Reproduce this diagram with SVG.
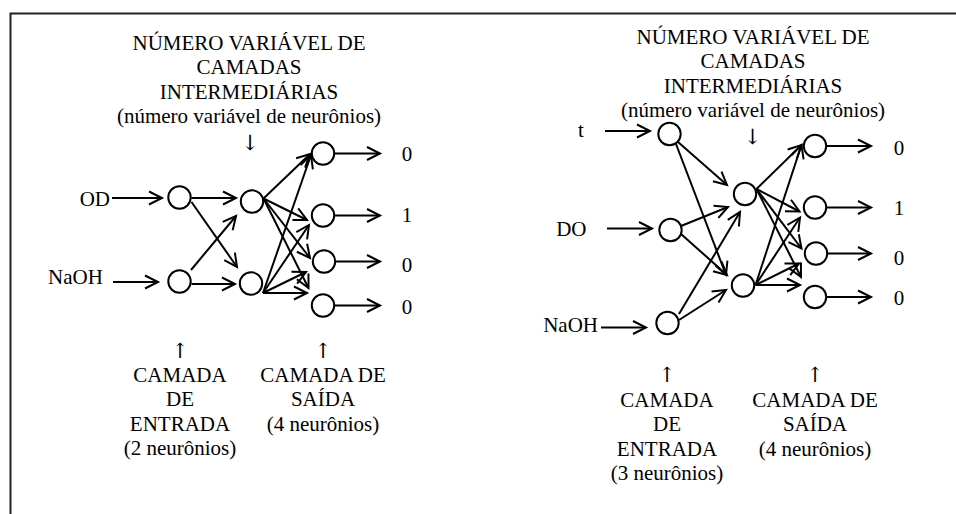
<svg xmlns="http://www.w3.org/2000/svg" width="956" height="514" viewBox="0 0 956 514">
  <style>
    text { font-family: "Liberation Serif", "Times New Roman", serif; font-size: 21px; fill: #000; }
    text.arr { font-family: "DejaVu Serif", "DejaVu Sans", serif; font-size: 21px; }
    .c { text-anchor: middle; }
    .e { text-anchor: end; }
    .n { fill: #fff; stroke: #000; stroke-width: 2; }
    .w { stroke: #000; stroke-width: 2; fill: none; marker-end: url(#ah); }
    .frame { stroke: #222; stroke-width: 2; fill: none; }
  </style>
  <defs>
    <marker id="ah" markerUnits="userSpaceOnUse" markerWidth="20" markerHeight="20" refX="0" refY="0" orient="auto" overflow="visible">
      <path d="M-13,-6.5 L0,0 L-13,6.5" fill="none" stroke="#000" stroke-width="2" stroke-linejoin="miter"/>
    </marker>
  </defs>

  <rect width="956" height="514" fill="#fff"/>
  <!-- frame (top and left edges) -->
  <path class="frame" d="M10.5,514 V13.5 H956"/>

  <!-- ===== network with 2 inputs ===== -->
  <g id="netA-title">
    <text class="c" x="249" y="49.5">NÚMERO VARIÁVEL DE</text>
    <text class="c" x="249" y="74">CAMADAS</text>
    <text class="c" x="249" y="98.5">INTERMEDIÁRIAS</text>
    <text class="c" x="249" y="123">(número variável de neurônios)</text>
    <text class="c arr" x="250" y="150">↓</text>
  </g>
  <g id="netA-input-label">
    <text class="c arr" x="180" y="358">↑</text>
    <text class="c" x="180" y="381.7">CAMADA</text>
    <text class="c" x="180" y="406.2">DE</text>
    <text class="c" x="180" y="430.7">ENTRADA</text>
    <text class="c" x="180" y="455.2">(2 neurônios)</text>
  </g>
  <g id="netA-output-label">
    <text class="c arr" x="323" y="358">↑</text>
    <text class="c" x="323" y="381.7">CAMADA DE</text>
    <text class="c" x="323" y="406.2">SAÍDA</text>
    <text class="c" x="323" y="430.7">(4 neurônios)</text>
  </g>

  <g id="netA-connectors">
    <!-- inputs -->
    <line class="w" x1="112" y1="198" x2="162" y2="198"/>
    <line class="w" x1="113" y1="282" x2="158" y2="282"/>
    <!-- input layer to hidden layer -->
    <line class="w" x1="191.5" y1="198" x2="236" y2="198"/>
    <line class="w" x1="191.5" y1="202" x2="237" y2="267"/>
    <line class="w" x1="191" y1="270" x2="236" y2="216"/>
    <line class="w" x1="191.5" y1="284" x2="235" y2="284"/>
    <!-- hidden layer to output layer -->
    <line class="w" x1="263.5" y1="198.5" x2="310" y2="154"/>
    <line class="w" x1="263.5" y1="198.5" x2="307" y2="220"/>
    <line class="w" x1="263.5" y1="198.5" x2="310" y2="258"/>
    <line class="w" x1="263.5" y1="198.5" x2="308.5" y2="288"/>
    <line class="w" x1="263" y1="293" x2="311" y2="155"/>
    <line class="w" x1="263" y1="293" x2="309" y2="225"/>
    <line class="w" x1="263" y1="293" x2="306" y2="272"/>
    <line class="w" x1="263" y1="293" x2="307" y2="293"/>
    <!-- outputs -->
    <line class="w" x1="334.5" y1="153.5" x2="380" y2="153.5"/>
    <line class="w" x1="334.5" y1="215.5" x2="380" y2="215.5"/>
    <line class="w" x1="335.5" y1="261.5" x2="380" y2="261.5"/>
    <line class="w" x1="334.5" y1="305.5" x2="380" y2="305.5"/>
  </g>

  <g id="netA-in-OD"><circle class="n" cx="179.5" cy="197.5" r="11.2"/><text class="e" x="110" y="206">OD</text></g>
  <g id="netA-in-NaOH"><circle class="n" cx="179.5" cy="281.5" r="11.2"/><text x="48" y="283.5">NaOH</text></g>
  <g id="netA-h1"><circle class="n" cx="252" cy="201.5" r="11.2"/></g>
  <g id="netA-h2"><circle class="n" cx="251" cy="283.5" r="11.2"/></g>
  <g id="netA-o1"><circle class="n" cx="323" cy="153.5" r="11.2"/><text class="c" x="407" y="161">0</text></g>
  <g id="netA-o2"><circle class="n" cx="323" cy="215.5" r="11.2"/><text class="c" x="407" y="222">1</text></g>
  <g id="netA-o3"><circle class="n" cx="324" cy="261.5" r="11.2"/><text class="c" x="407" y="271.5">0</text></g>
  <g id="netA-o4"><circle class="n" cx="323" cy="305.5" r="11.2"/><text class="c" x="407" y="313.5">0</text></g>

  <!-- ===== network with 3 inputs ===== -->
  <g id="netB-title">
    <text class="c" x="753" y="43.5">NÚMERO VARIÁVEL DE</text>
    <text class="c" x="753" y="68">CAMADAS</text>
    <text class="c" x="753" y="92.5">INTERMEDIÁRIAS</text>
    <text class="c" x="753" y="117">(número variável de neurônios)</text>
    <text class="c arr" x="752.5" y="144">↓</text>
  </g>
  <g id="netB-input-label">
    <text class="c arr" x="667" y="382">↑</text>
    <text class="c" x="667" y="406.5">CAMADA</text>
    <text class="c" x="667" y="431">DE</text>
    <text class="c" x="667" y="455.5">ENTRADA</text>
    <text class="c" x="667" y="480">(3 neurônios)</text>
  </g>
  <g id="netB-output-label">
    <text class="c arr" x="815" y="382">↑</text>
    <text class="c" x="815" y="406.5">CAMADA DE</text>
    <text class="c" x="815" y="431">SAÍDA</text>
    <text class="c" x="815" y="455.5">(4 neurônios)</text>
  </g>

  <g id="netB-connectors">
    <!-- inputs -->
    <line class="w" x1="605" y1="131" x2="650" y2="131"/>
    <line class="w" x1="607" y1="228.5" x2="652" y2="228.5"/>
    <line class="w" x1="601" y1="327.5" x2="646" y2="327.5"/>
    <!-- input layer to hidden layer -->
    <line class="w" x1="678" y1="142" x2="727" y2="185"/>
    <line class="w" x1="676" y1="144" x2="726" y2="275"/>
    <line class="w" x1="681" y1="226" x2="728" y2="207"/>
    <line class="w" x1="681" y1="234" x2="727" y2="275"/>
    <line class="w" x1="679" y1="314" x2="740" y2="212"/>
    <line class="w" x1="679" y1="320" x2="726" y2="290"/>
    <!-- hidden layer to output layer -->
    <line class="w" x1="756.5" y1="189" x2="801.5" y2="145"/>
    <line class="w" x1="756.5" y1="189" x2="799.5" y2="211.5"/>
    <line class="w" x1="756.5" y1="189" x2="801.5" y2="248.5"/>
    <line class="w" x1="756.5" y1="189" x2="801" y2="277"/>
    <line class="w" x1="755.5" y1="285" x2="801.5" y2="145"/>
    <line class="w" x1="755.5" y1="285" x2="800" y2="217.5"/>
    <line class="w" x1="755.5" y1="285" x2="799" y2="263.5"/>
    <line class="w" x1="755.5" y1="285" x2="800" y2="285"/>
    <!-- outputs -->
    <line class="w" x1="826.5" y1="146" x2="871" y2="146"/>
    <line class="w" x1="826.5" y1="207.5" x2="871" y2="207.5"/>
    <line class="w" x1="827.5" y1="253.5" x2="871" y2="253.5"/>
    <line class="w" x1="826.5" y1="297" x2="871" y2="297"/>
  </g>

  <g id="netB-in-t"><circle class="n" cx="669.5" cy="134" r="11.2"/><text class="c" x="581" y="136.5">t</text></g>
  <g id="netB-in-DO"><circle class="n" cx="670.5" cy="230" r="11.2"/><text class="e" x="586.5" y="236">DO</text></g>
  <g id="netB-in-NaOH"><circle class="n" cx="667.5" cy="323" r="11.2"/><text class="e" x="598" y="331.5">NaOH</text></g>
  <g id="netB-h1"><circle class="n" cx="745" cy="194" r="11.2"/></g>
  <g id="netB-h2"><circle class="n" cx="743" cy="285.5" r="11.2"/></g>
  <g id="netB-o1"><circle class="n" cx="815" cy="146" r="11.2"/><text class="c" x="899" y="155">0</text></g>
  <g id="netB-o2"><circle class="n" cx="815" cy="207.5" r="11.2"/><text class="c" x="899" y="215">1</text></g>
  <g id="netB-o3"><circle class="n" cx="816" cy="253.5" r="11.2"/><text class="c" x="899" y="265">0</text></g>
  <g id="netB-o4"><circle class="n" cx="815" cy="297" r="11.2"/><text class="c" x="899" y="305">0</text></g>
</svg>
